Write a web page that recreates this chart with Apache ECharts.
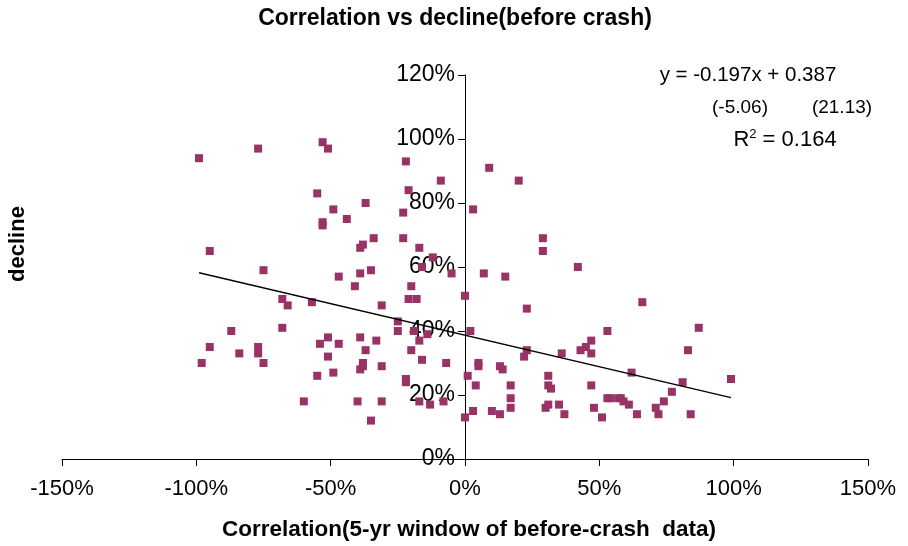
<!DOCTYPE html>
<html>
<head>
<meta charset="utf-8">
<script src="https://cdn.jsdelivr.net/npm/echarts@6/dist/echarts.min.js"></script>
<style>
  html, body { margin: 0; padding: 0; background: #fff; }
  #chart { width: 908px; height: 546px; }
</style>
</head>
<body>
<div id="chart"></div>
<script>
// correlation (x) values
const corr = [
  -0.99, -0.77, -0.53, -0.51, -0.55, -0.53, -0.53, -0.95, -0.75, -0.68,
  -0.66, -0.57, -0.87, -0.68, -0.95, -0.84, -0.77, -0.77, -0.75, -0.98,
  -0.54, -0.51, -0.51, -0.55, -0.60, -0.49, -0.49, -0.37, -0.44, -0.22,
  -0.21, -0.09, -0.23, -0.23, -0.34, -0.38, -0.39, -0.17, -0.12, -0.35,
  -0.39, -0.47, -0.41, -0.20, -0.05, 0.00, -0.21, -0.18, -0.31, -0.25,
  -0.25, 0.02, -0.47, -0.39, -0.33, -0.37, -0.38, -0.38, -0.39, -0.31,
  -0.17, -0.14, -0.19, -0.20, -0.16, -0.07, -0.22, -0.22, -0.40, -0.31,
  -0.17, -0.13, -0.08, -0.35, 0.00, 0.01, -0.16,
  0.09, 0.20, 0.03, 0.29, 0.29, 0.42, 0.07, 0.15, 0.23, 0.53,
  0.47, 0.45, 0.43, 0.47, 0.36, 0.23, 0.22, 0.05, 0.05, 0.13,
  0.14, 0.04, 0.17, 0.31, 0.31, 0.32, 0.47, 0.17, 0.53, 0.31,
  0.30, 0.35, 0.37, 0.17, 0.10, 0.13, 0.03, 0.48, 0.51, 0.66,
  0.87, 0.83, 0.62, 0.81, 0.99, 0.54, 0.57, 0.58, 0.59, 0.61,
  0.64, 0.71, 0.72, 0.74, 0.77, 0.84
]
// decline (y) values, same order
const decline = [
  0.94, 0.97, 0.99, 0.97, 0.83, 0.74, 0.73, 0.65, 0.59, 0.50,
  0.48, 0.49, 0.40, 0.41, 0.35, 0.33, 0.35, 0.33, 0.30, 0.30,
  0.36, 0.38, 0.32, 0.26, 0.18, 0.27, 0.78, 0.80, 0.75, 0.93,
  0.84, 0.87, 0.77, 0.69, 0.69, 0.67, 0.66, 0.66, 0.63, 0.59,
  0.58, 0.57, 0.54, 0.54, 0.58, 0.51, 0.50, 0.50, 0.48, 0.43,
  0.40, 0.40, 0.36, 0.38, 0.37, 0.34, 0.30, 0.29, 0.28, 0.29,
  0.37, 0.39, 0.40, 0.34, 0.31, 0.30, 0.25, 0.24, 0.18, 0.18,
  0.18, 0.17, 0.18, 0.12, 0.13, 0.26, 0.60,
  0.91, 0.87, 0.78, 0.69, 0.65, 0.60, 0.58, 0.57, 0.47, 0.40,
  0.37, 0.35, 0.34, 0.33, 0.33, 0.34, 0.32, 0.30, 0.29, 0.29,
  0.28, 0.23, 0.23, 0.26, 0.23, 0.22, 0.23, 0.19, 0.19, 0.17,
  0.16, 0.17, 0.14, 0.16, 0.15, 0.14, 0.15, 0.16, 0.13, 0.49,
  0.41, 0.34, 0.27, 0.24, 0.25, 0.19, 0.19, 0.19, 0.18, 0.17,
  0.14, 0.16, 0.14, 0.18, 0.21, 0.14
]
// fitted line y = -0.197x + 0.387, drawn across the data range
const slope = -0.197
const intercept = 0.387
const fitX = [-0.99, 0.99]

const xTicks = [-1.5, 1.5, 0.5]  // min, max, interval
const yTicks = [0, 1.2, 0.2]

const pts = corr.map((c, i) => [c, decline[i]])
const fitLine = fitX.map(x => [x, slope * x + intercept])

const pct = v => Math.round(v * 100) + '%'
const font = 'Liberation Sans, Arial, sans-serif'

const gridLeft = 62
const gridRight = 40
const gridW = 908 - gridLeft - gridRight
// shift the y axis from the grid's left edge to x = 0
const yShift = gridW * (0 - xTicks[0]) / (xTicks[1] - xTicks[0])

const chart = echarts.init(document.getElementById('chart'))
chart.setOption({
  animation: false,
  textStyle: { fontFamily: font },
  grid: { left: gridLeft, right: gridRight, top: 75, bottom: 87, containLabel: false },
  xAxis: {
    type: 'value',
    min: xTicks[0], max: xTicks[1], interval: xTicks[2],
    splitLine: { show: false },
    axisLine: { onZero: false, lineStyle: { color: '#000', width: 1 } },
    axisTick: { show: true, inside: false, length: 7, lineStyle: { color: '#000' } },
    axisLabel: { formatter: pct, color: '#000', fontSize: 22, margin: 19 }
  },
  yAxis: {
    type: 'value',
    min: yTicks[0], max: yTicks[1], interval: yTicks[2],
    offset: -yShift,
    splitLine: { show: false },
    axisLine: { show: true, onZero: false, lineStyle: { color: '#000', width: 1 } },
    axisTick: { show: true, inside: false, length: 7, lineStyle: { color: '#000' } },
    axisLabel: { formatter: pct, color: '#000', fontSize: 23, margin: 10 }
  },
  series: [
    {
      type: 'scatter',
      data: pts,
      symbol: 'rect',
      symbolSize: 8,
      itemStyle: { color: '#993366', opacity: 1 },
      z: 3
    },
    {
      type: 'line',
      data: fitLine,
      showSymbol: false,
      lineStyle: { color: '#000', width: 1.3 },
      z: 4
    }
  ],
  graphic: [
    {
      type: 'text', x: 455, y: 19,
      style: { text: 'Correlation vs decline(before crash)', font: 'bold 23px ' + font, fill: '#000', align: 'center', verticalAlign: 'middle' }
    },
    {
      type: 'text', x: 469, y: 530,
      style: { text: 'Correlation(5-yr window of before-crash  data)', font: 'bold 22.5px ' + font, fill: '#000', align: 'center', verticalAlign: 'middle' }
    },
    {
      type: 'text', x: 18, y: 244, rotation: Math.PI / 2,
      style: { text: 'decline', font: 'bold 22px ' + font, fill: '#000', align: 'center', verticalAlign: 'middle' }
    },
    {
      type: 'text', x: 748, y: 75,
      style: { text: 'y = -0.197x + 0.387', font: '20.5px ' + font, fill: '#000', align: 'center', verticalAlign: 'middle' }
    },
    {
      type: 'text', x: 740, y: 108,
      style: { text: '(-5.06)', font: '19px ' + font, fill: '#000', align: 'center', verticalAlign: 'middle' }
    },
    {
      type: 'text', x: 842, y: 108,
      style: { text: '(21.13)', font: '19px ' + font, fill: '#000', align: 'center', verticalAlign: 'middle' }
    },
    {
      type: 'text', x: 785, y: 140,
      style: {
        text: '{a|R}{s|2}{a| = 0.164}',
        align: 'center', verticalAlign: 'middle',
        rich: {
          a: { fontSize: 22, fontFamily: font, color: '#000' },
          s: { fontSize: 13, fontFamily: font, color: '#000', verticalAlign: 'top', padding: [0, 0, 12, 0] }
        }
      }
    }
  ]
})
</script>
</body>
</html>
